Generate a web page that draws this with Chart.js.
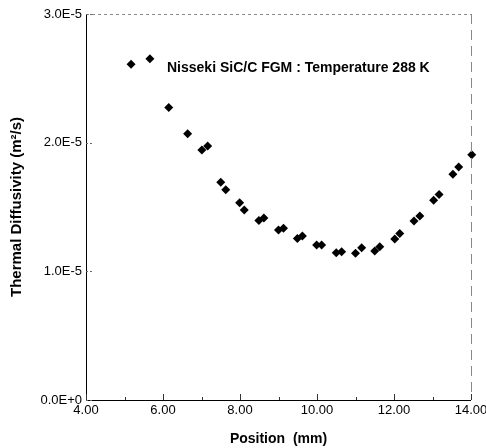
<!DOCTYPE html>
<html>
<head>
<meta charset="utf-8">
<script src="https://cdn.jsdelivr.net/npm/chart.js@4/dist/chart.umd.min.js"></script>
<style>
  html, body { margin: 0; padding: 0; background: #fff; }
  canvas { display: block; }
</style>
</head>
<body>
<canvas id="c" width="486" height="448"></canvas>
<script>
// Data
const positions = [5.17, 5.66, 6.15, 6.64, 7.01, 7.16, 7.50, 7.63, 7.99, 8.11, 8.49, 8.62, 9.00, 9.13, 9.49, 9.62, 9.99, 10.12, 10.50, 10.64, 11.00, 11.16, 11.50, 11.63, 12.02, 12.15, 12.52, 12.67, 13.03, 13.17, 13.53, 13.68, 14.02];
const diffusivity = [2.61e-5, 2.652e-5, 2.274e-5, 2.069e-5, 1.943e-5, 1.974e-5, 1.692e-5, 1.634e-5, 1.533e-5, 1.476e-5, 1.396e-5, 1.414e-5, 1.321e-5, 1.334e-5, 1.256e-5, 1.274e-5, 1.204e-5, 1.204e-5, 1.145e-5, 1.152e-5, 1.140e-5, 1.183e-5, 1.158e-5, 1.191e-5, 1.251e-5, 1.294e-5, 1.391e-5, 1.430e-5, 1.552e-5, 1.598e-5, 1.754e-5, 1.810e-5, 1.906e-5];
const xTicks = [4, 6, 8, 10, 12, 14];
const xMinor = [5, 7, 9, 11, 13];
const yTicks = [0, 1e-5, 2e-5, 3e-5];
const yTickLabels = ["0.0E+0", "1.0E-5", "2.0E-5", "3.0E-5"];
const annotationText = "Nisseki SiC/C FGM : Temperature 288 K";

const FONT = "'Liberation Sans', Arial, sans-serif";

const framePlugin = {
  id: 'frame',
  afterDraw(chart) {
    const ctx = chart.ctx;
    const a = chart.chartArea;
    const xs = chart.scales.x, ys = chart.scales.y;
    ctx.save();
    // top border (faint dotted)
    ctx.strokeStyle = '#888';
    ctx.lineWidth = 1;
    ctx.setLineDash([3, 3]);
    ctx.beginPath();
    ctx.moveTo(a.left, a.top + 0.5);
    ctx.lineTo(a.right, a.top + 0.5);
    ctx.stroke();
    // right border (faint dashed)
    ctx.setLineDash([10, 6]);
    ctx.beginPath();
    ctx.moveTo(a.right + 0.5, a.top);
    ctx.lineTo(a.right + 0.5, a.bottom);
    ctx.stroke();
    ctx.setLineDash([]);
    // left and bottom axes
    ctx.strokeStyle = '#000';
    ctx.beginPath();
    ctx.moveTo(a.left + 0.5, a.top);
    ctx.lineTo(a.left + 0.5, a.bottom + 0.5);
    ctx.lineTo(a.right, a.bottom + 0.5);
    ctx.stroke();
    // inward ticks on x axis
    ctx.strokeStyle = '#333';
    xTicks.forEach(v => {
      const px = Math.round(xs.getPixelForValue(v)) + 0.5;
      ctx.beginPath(); ctx.moveTo(px, a.bottom); ctx.lineTo(px, a.bottom - 6); ctx.stroke();
    });
    xMinor.forEach(v => {
      const px = Math.round(xs.getPixelForValue(v)) + 0.5;
      ctx.beginPath(); ctx.moveTo(px, a.bottom); ctx.lineTo(px, a.bottom - 3); ctx.stroke();
    });
    // short dotted ticks on y axis
    ctx.strokeStyle = '#666';
    ctx.setLineDash([2, 2]);
    yTicks.forEach(v => {
      const py = Math.round(ys.getPixelForValue(v)) + 0.5;
      ctx.beginPath(); ctx.moveTo(a.left, py); ctx.lineTo(a.left + 8, py); ctx.stroke();
    });
    ctx.setLineDash([]);
    // annotation
    ctx.fillStyle = '#000';
    ctx.font = "bold 14px " + FONT;
    ctx.textBaseline = 'middle';
    ctx.textAlign = 'left';
    ctx.fillText(annotationText, 167, 68);
    ctx.restore();
  }
};

new Chart(document.getElementById('c'), {
  type: 'scatter',
  data: {
    datasets: [{
      data: positions.map((x, i) => ({ x: x, y: diffusivity[i] })),
      pointStyle: 'rectRot',
      pointRadius: 4.5,
      pointHoverRadius: 4.5,
      backgroundColor: '#000',
      borderColor: '#000',
      borderWidth: 0,
      clip: false
    }]
  },
  options: {
    responsive: false,
    animation: false,
    events: [],
    layout: { padding: { top: 14, right: 15, bottom: 0, left: 0 } },
    plugins: { legend: { display: false }, tooltip: { enabled: false } },
    scales: {
      x: {
        type: 'linear',
        min: 4, max: 14,
        afterBuildTicks(s) { s.ticks = xTicks.map(v => ({ value: v })); },
        afterFit(s) { s.height = 48; s.paddingRight = 0; s.paddingLeft = 0; },
        grid: { display: false, drawTicks: false },
        border: { display: false },
        ticks: {
          padding: 3,
          color: '#000',
          font: { family: FONT, size: 13 },
          maxRotation: 0,
          callback: v => v.toFixed(2)
        },
        title: {
          display: true,
          text: 'Position  (mm)',
          color: '#000',
          font: { family: FONT, size: 14, weight: 'bold' },
          padding: { top: 9, bottom: 0 }
        }
      },
      y: {
        type: 'linear',
        min: 0, max: 3e-5,
        afterBuildTicks(s) { s.ticks = yTicks.map(v => ({ value: v })); },
        afterFit(s) { s.width = 86; },
        grid: { display: false, drawTicks: false },
        border: { display: false },
        ticks: {
          padding: 4,
          color: '#000',
          font: { family: FONT, size: 13 },
          callback: (v) => { const i = yTicks.findIndex(t => Math.abs(t - v) < 1e-9); return i >= 0 ? yTickLabels[i] : ''; }
        },
        title: {
          display: true,
          text: 'Thermal Diffusivity (m²/s)',
          color: '#000',
          font: { family: FONT, size: 15, weight: 'bold' },
          padding: { top: 8, bottom: 0 }
        }
      }
    }
  },
  plugins: [framePlugin]
});
</script>
</body>
</html>
